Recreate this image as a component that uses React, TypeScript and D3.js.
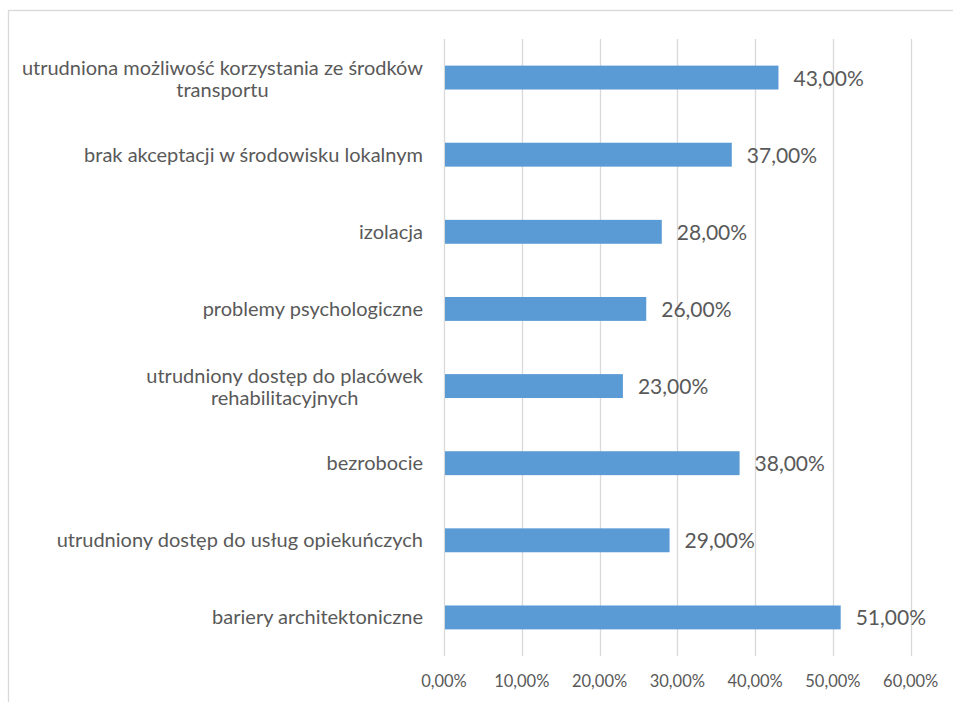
import React, { useEffect, useRef } from "react";
import * as d3 from "d3";

const categories: string[][] = [
  ["utrudniona możliwość korzystania ze środków", "transportu"],
  ["brak akceptacji w środowisku lokalnym"],
  ["izolacja"],
  ["problemy psychologiczne"],
  ["utrudniony dostęp do placówek", "rehabilitacyjnych"],
  ["bezrobocie"],
  ["utrudniony dostęp do usług opiekuńczych"],
  ["bariery architektoniczne"],
];
const values: number[] = [0.43, 0.37, 0.28, 0.26, 0.23, 0.38, 0.29, 0.51];
const ticks: number[] = [0, 0.1, 0.2, 0.3, 0.4, 0.5, 0.6];

const W = 953;
const H = 702;
const FONT = "Lato, 'Open Sans', sans-serif";
const TEXT = "#595959";
const GRID = "#D9D9D9";
const BAR = "#5B9BD5";

const fmt = (v: number) => (v * 100).toFixed(2).replace(".", ",") + "%";

export default function App() {
  const ref = useRef<SVGSVGElement>(null);
  useEffect(() => {
    const svg = d3.select(ref.current!);
    svg.selectAll("*").remove();

    // chart border
    svg.append("rect")
      .attr("x", 8.5).attr("y", 10.5)
      .attr("width", W + 20).attr("height", H + 20)
      .attr("fill", "white").attr("stroke", GRID).attr("stroke-width", 1.3);

    const x = d3.scaleLinear().domain([0, 0.6]).range([444, 910.7]);
    const y = d3.scaleBand<number>()
      .domain(d3.range(categories.length))
      .range([39, 656])
      .paddingInner(0.69)
      .paddingOuter(0.345);

    const [yTop, yBot] = [39, 656];

    svg.append("g").selectAll("line").data(ticks).join("line")
      .attr("x1", (d) => Math.round(x(d)) + 0.5)
      .attr("x2", (d) => Math.round(x(d)) + 0.5)
      .attr("y1", yTop).attr("y2", yBot)
      .attr("stroke", GRID).attr("stroke-width", 1.3);

    svg.append("g").selectAll("text").data(ticks).join("text")
      .attr("x", (d) => x(d)).attr("y", 687)
      .attr("text-anchor", "middle")
      .attr("font-family", FONT).attr("font-size", 16.5).attr("fill", TEXT)
      .text((d) => fmt(d));

    svg.append("g").selectAll("rect").data(values).join("rect")
      .attr("x", x(0) + 1)
      .attr("y", (_d, i) => y(i)!)
      .attr("width", (d) => x(d) - x(0) - 1)
      .attr("height", y.bandwidth())
      .attr("fill", BAR);

    svg.append("g").selectAll("text").data(values).join("text")
      .attr("x", (d) => x(d) + 15)
      .attr("y", (_d, i) => y(i)! + y.bandwidth() / 2 + 8)
      .attr("font-family", FONT).attr("font-size", 21).attr("fill", TEXT)
      .text((d) => fmt(d));

    const labelRight = 423;
    categories.forEach((lines, i) => {
      const cy = y(i)! + y.bandwidth() / 2;
      const g = svg.append("g");
      const texts = lines.map((ln, j) => {
        const base = lines.length === 1 ? cy + 7 : cy + 8 + (j === 0 ? -11 : 11);
        return g.append("text")
          .attr("y", base)
          .attr("text-anchor", "middle")
          .attr("font-family", FONT).attr("font-size", 20).attr("fill", TEXT)
          .text(ln);
      });
      const widths = texts.map((t) => (t.node() as SVGTextElement).getComputedTextLength());
      const maxW = Math.max(...widths);
      texts.forEach((t) => t.attr("x", labelRight - maxW / 2));
    });
  }, []);
  return (
    <svg
      ref={ref}
      width={W}
      height={H}
      style={{ position: "absolute", left: 0, top: 0, display: "block" }}
    />
  );
}
